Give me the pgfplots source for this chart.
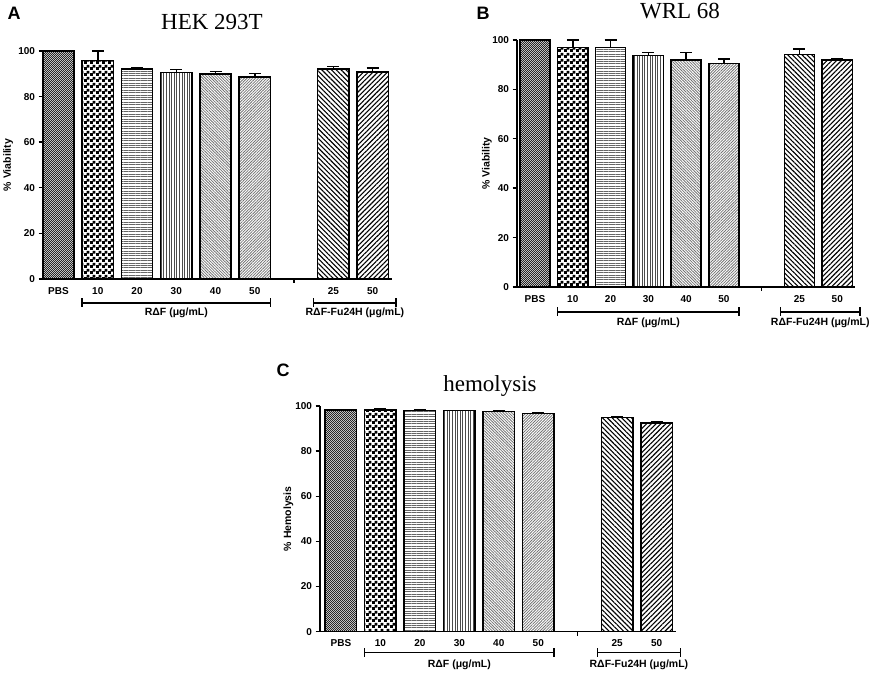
\documentclass[border=0pt]{standalone}
\usepackage{fontspec}
\setmainfont{Liberation Sans}
\newfontfamily\titlefont{Liberation Serif}
\usepackage{pgfplots}
\pgfplotsset{compat=1.18}
\usetikzlibrary{patterns,patterns.meta}

\tikzdeclarepattern{
  name=finecheck, type=uncolored,
  bounding box={(0pt,0pt) and (2.4pt,2.4pt)},
  tile size={(2.4pt,2.4pt)},
  code={\pgfpathrectangle{\pgfpointorigin}{\pgfqpoint{1.3pt}{1.3pt}}
        \pgfpathrectangle{\pgfqpoint{1.2pt}{1.2pt}}{\pgfqpoint{1.2pt}{1.2pt}}
        \pgfusepath{fill}}
}
\tikzdeclarepattern{
  name=coarsecheck, type=uncolored,
  bounding box={(0pt,0pt) and (6pt,6pt)},
  tile size={(6pt,6pt)},
  code={\pgfpathrectangle{\pgfpointorigin}{\pgfqpoint{3.4pt}{3.4pt}}
        \pgfpathrectangle{\pgfqpoint{2.9pt}{2.9pt}}{\pgfqpoint{3.1pt}{3.1pt}}
        \pgfusepath{fill}}
}

\pgfplotsset{
  p0/.style={pattern=finecheck, pattern color=black!85},
  p1/.style={pattern=coarsecheck, pattern color=black},
  p2/.style={pattern={Lines[angle=0,distance=2.4pt,line width=1pt]}, pattern color=black!60},
  p3/.style={pattern={Lines[angle=90,distance=2.6pt,line width=1pt]}, pattern color=black!70},
  p4/.style={pattern={Lines[angle=-45,distance=2pt,line width=0.8pt]}, pattern color=black!55},
  p5/.style={pattern={Lines[angle=45,distance=2pt,line width=0.8pt]}, pattern color=black!55},
  p7/.style={pattern={Lines[angle=-45,distance=3.4pt,line width=1.1pt]}, pattern color=black},
  p8/.style={pattern={Lines[angle=45,distance=3.4pt,line width=1.1pt]}, pattern color=black},
  mybar/.style={ybar, bar shift=0pt, bar width=0.8, draw=black, line width=1.5pt,
    error bars/y dir=plus, error bars/y explicit,
    error bars/error bar style={line width=1.5pt, black, solid},
    error bars/error mark options={line width=1.5pt, mark size=6pt, black, rotate=90}},
  panel/.style={
    scale only axis, anchor=south west,
    axis lines*=left, axis line style={line width=1.4pt},
    ymin=0, ymax=100, ytick={0,20,40,60,80,100},
    xtick={0,1,2,3,4,5,7,8}, xticklabels={PBS,10,20,30,40,50,25,50},
    x tick style={draw=none}, y tick style={line width=1.4pt, black},
    tick align=outside, major tick length=4.5pt,
    ticklabel style={font=\bfseries\fontsize{10}{12}\selectfont},
    /pgf/number format/assume math mode=true,
    clip=false,
  },
  ylab/.style 2 args={every axis y label/.style={at={(axis description cs:#1,0.5)}, rotate=90, anchor=center,
      font=\bfseries\fontsize{10.5}{12}\selectfont}, ylabel={#2}},
}

\newcommand\groupmarks[2]{%
  \draw[line width=1.4pt] ([yshift=-#1]axis cs:0.6,0) -- ([yshift=-#1]axis cs:5.4,0);
  \draw[line width=1.4pt] ([yshift=-#1+4.5pt]axis cs:0.6,0) -- ([yshift=-#1-4.5pt]axis cs:0.6,0);
  \draw[line width=1.4pt] ([yshift=-#1+4.5pt]axis cs:5.4,0) -- ([yshift=-#1-4.5pt]axis cs:5.4,0);
  \draw[line width=1.4pt] ([yshift=-#1]axis cs:6.5,0) -- ([yshift=-#1]axis cs:8.6,0);
  \draw[line width=1.4pt] ([yshift=-#1+4.5pt]axis cs:6.5,0) -- ([yshift=-#1-4.5pt]axis cs:6.5,0);
  \draw[line width=1.4pt] ([yshift=-#1+4.5pt]axis cs:8.6,0) -- ([yshift=-#1-4.5pt]axis cs:8.6,0);
  \draw[line width=1.4pt] (axis cs:6,0) -- ([yshift=-4pt]axis cs:6,0);
  \node[font=\bfseries\fontsize{10.5}{12}\selectfont] at ([yshift=-#2]axis cs:3,0) {RΔF (μg/mL)};
  \node[font=\bfseries\fontsize{10.5}{12}\selectfont] at ([yshift=-#2]axis cs:7.55,0) {RΔF-Fu24H (μg/mL)};
}

\begin{document}
\begin{tikzpicture}[x=1pt,y=1pt]

% Panel A
\node[font=\bfseries\fontsize{18}{20}\selectfont, anchor=base] at (14,656) {A};
\node[font=\titlefont\fontsize{23}{26}\selectfont, anchor=base] at (212,646.7) {HEK 293T};
\begin{axis}[panel, at={(43pt,397pt)}, width=349pt, height=228pt,
  xmin=-0.395, xmax=8.495, ylab={-0.1}{\% Viability}]
\addplot[p0, mybar] coordinates {(0,100) +- (0,0)};
\addplot[p1, mybar] coordinates {(1,95.8) +- (0,4.1)};
\addplot[p2, mybar] coordinates {(2,92.0) +- (0,0.7)};
\addplot[p3, mybar] coordinates {(3,90.5) +- (0,1.3)};
\addplot[p4, mybar] coordinates {(4,90.0) +- (0,1.0)};
\addplot[p5, mybar] coordinates {(5,88.5) +- (0,1.6)};
\addplot[p7, mybar] coordinates {(7,92.1) +- (0,1.2)};
\addplot[p8, mybar] coordinates {(8,90.8) +- (0,1.7)};
\groupmarks{24pt}{34pt}
\end{axis}

% Panel B
\node[font=\bfseries\fontsize{18}{20}\selectfont, anchor=base] at (483,656) {B};
\node[font=\titlefont\fontsize{23}{26}\selectfont, anchor=base] at (680,657.7) {WRL 68};
\begin{axis}[panel, at={(517pt,389pt)}, width=338pt, height=247pt,
  xmin=-0.476, xmax=8.47, ylab={-0.089}{\% Viability}]
\addplot[p0, mybar] coordinates {(0,100) +- (0,0)};
\addplot[p1, mybar] coordinates {(1,97.0) +- (0,3.0)};
\addplot[p2, mybar] coordinates {(2,97.0) +- (0,3.0)};
\addplot[p3, mybar] coordinates {(3,93.8) +- (0,1.2)};
\addplot[p4, mybar] coordinates {(4,91.9) +- (0,3.1)};
\addplot[p5, mybar] coordinates {(5,90.4) +- (0,1.9)};
\addplot[p7, mybar] coordinates {(7,94.2) +- (0,2.2)};
\addplot[p8, mybar] coordinates {(8,91.8) +- (0,0.8)};
\groupmarks{25pt}{36pt}
\end{axis}

% Panel C
\node[font=\bfseries\fontsize{18}{20}\selectfont, anchor=base] at (283,299.3) {C};
\node[font=\titlefont\fontsize{23}{26}\selectfont, anchor=base] at (490,284.3) {hemolysis};
\begin{axis}[panel, at={(320pt,44.3pt)}, width=356pt, height=225.7pt,
  xmin=-0.53, xmax=8.49, ylab={-0.089}{\% Hemolysis}]
\addplot[p0, mybar] coordinates {(0,98.2) +- (0,0.3)};
\addplot[p1, mybar] coordinates {(1,98.2) +- (0,0.4)};
\addplot[p2, mybar] coordinates {(2,97.9) +- (0,0.3)};
\addplot[p3, mybar] coordinates {(3,97.9) +- (0,0.2)};
\addplot[p4, mybar] coordinates {(4,97.6) +- (0,0.3)};
\addplot[p5, mybar] coordinates {(5,96.7) +- (0,0.3)};
\addplot[p7, mybar] coordinates {(7,95.0) +- (0,0.3)};
\addplot[p8, mybar] coordinates {(8,92.5) +- (0,0.4)};
\groupmarks{21pt}{33pt}
\end{axis}

\pgfresetboundingbox
\useasboundingbox (0,0) rectangle (872,676);
\end{tikzpicture}
\end{document}
